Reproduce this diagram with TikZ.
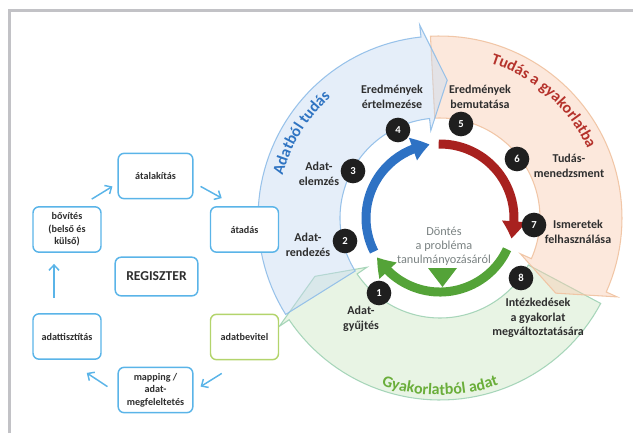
\documentclass[tikz,border=0pt]{standalone}
\usepackage{fontspec}
\setmainfont{Carlito}
\usetikzlibrary{arrows.meta,decorations.text,bending,calc}
\definecolor{framegray}{HTML}{C2C2C6}
\definecolor{bandblue}{HTML}{C6DAF2}
\definecolor{edgeblue}{HTML}{8FBDE8}
\definecolor{bandorange}{HTML}{F8CCB2}
\definecolor{edgeorange}{HTML}{F0C2A0}
\definecolor{bandgreen}{HTML}{CDE6C4}
\definecolor{edgegreen}{HTML}{9FD2B4}
\definecolor{titleblue}{HTML}{2F74C2}
\definecolor{titlered}{HTML}{B5322B}
\definecolor{titlegreen}{HTML}{6AAE3A}
\definecolor{arcblue}{HTML}{2E72C4}
\definecolor{arcred}{HTML}{A8211F}
\definecolor{arcgreen}{HTML}{54A338}
\definecolor{txt}{HTML}{2E2E2E}
\definecolor{dtxt}{HTML}{7A8282}
\definecolor{boxblue}{HTML}{5AB4E8}
\definecolor{boxgreen}{HTML}{B3D46C}
\newcommand\ringarrow[4]{%
 \filldraw[#4] plot[domain=#1:#2,samples=50] ({440+182*cos(\x)},{218+182*sin(\x)})
  -- ({440+194*cos(#2)},{218+194*sin(#2)})
  -- ({440+138*cos(#3)},{218+138*sin(#3)})
  -- ({440+88*cos(#2)},{218+88*sin(#2)})
  -- plot[domain=#2:#1,samples=50] ({440+100*cos(\x)},{218+100*sin(\x)}) -- cycle;}
\newcommand\ringtitle[5]{%
 \path[decorate,decoration={text along path,text align=center,text color=#4,
   text={|\bfseries\fontsize{12}{14}\selectfont|#5}}]
   plot[domain=#1:#2,samples=80] ({440+#3*cos(\x)},{218+#3*sin(\x)});}
\begin{document}
\begin{tikzpicture}[x=0.75pt,y=-0.75pt,
  band/.style={line width=0.8pt,fill opacity=0.45,draw opacity=0.9},
  numdot/.style={circle,fill=black!88,text=white,font=\bfseries\fontsize{8}{9}\selectfont,minimum size=18.5pt,inner sep=0pt},
  steplabel/.style={align=center,text=txt,font=\bfseries\fontsize{9}{11}\selectfont,inner sep=0pt},
  innerarc/.style={line width=6.75pt},
  regbox/.style={draw=boxblue,line width=1.1pt,rounded corners=4.5pt,fill=white,align=center,text=txt,
     font=\bfseries\fontsize{7.6}{9.4}\selectfont,minimum width=51pt,minimum height=34pt,inner sep=1pt},
  regarrow/.style={draw=boxblue,line width=1.1pt,-{Straight Barb[length=4pt,width=7.5pt]}}]
\useasboundingbox (0,0) rectangle (633,433);
% frame
\draw[framegray,line width=2.25pt] (9,433) -- (9,10) -- (633,10);
% ring arrows
\ringarrow{28}{146}{155}{band,fill=bandgreen,draw=edgegreen}
\ringarrow{267}{384}{393}{band,fill=bandorange,draw=edgeorange}
\ringarrow{148}{264}{273}{band,fill=bandblue,draw=edgeblue}
% ring titles
\ringtitle{178}{245}{163}{titleblue}{Adatból tudás}
\ringtitle{276}{347}{163}{titlered}{Tudás a gyakorlatba}
\ringtitle{132}{48}{177}{titlegreen}{Gyakorlatból adat}
% inner cycle arcs
\coordinate (C) at (440,218);
\draw[innerarc,arcblue,-{Triangle[length=13pt,width=17pt,bend]}] ($(C)+(153:74)$) arc[start angle=153,end angle=262,radius=74];
\draw[innerarc,arcred,-{Triangle[length=13pt,width=17pt,bend]}] ($(C)+(269:74)$) arc[start angle=269,end angle=376,radius=74];
\draw[innerarc,arcgreen,-{Triangle[length=13pt,width=17pt,bend]}] ($(C)+(25:74)$) arc[start angle=25,end angle=148,radius=74];
\fill[arcgreen] (428,268) -- (457,268) -- (442.5,287) -- cycle;
\node[align=center,text=dtxt,font=\fontsize{9.2}{10.4}\selectfont,inner sep=0pt] (dontes) at (444,246) {Döntés\\a probléma\\tanulmányozásáról};
% numbers
\node[numdot] (n1) at (379,293) {1};
\node[numdot] (n2) at (345,241) {2};
\node[numdot] (n3) at (353,171) {3};
\node[numdot] (n4) at (398,130) {4};
\node[numdot] (n5) at (461,124) {5};
\node[numdot] (n6) at (517,159) {6};
\node[numdot] (n7) at (534,225) {7};
\node[numdot] (n8) at (521,278) {8};
% step labels
\node[steplabel] (l1) at (361,319) {Adat-\\gyűjtés};
\node[steplabel] (l2) at (308,245) {Adat-\\rendezés};
\node[steplabel] (l3) at (319,174) {Adat-\\elemzés};
\node[steplabel] (l4) at (392,97) {Eredmények\\értelmezése};
\node[steplabel] (l5) at (480,97) {Eredmények\\bemutatása};
\node[steplabel] (l6) at (569,166) {Tudás-\\menedzsment};
\node[steplabel] (l7) at (578,232) {Ismeretek\\felhasználása};
\node[steplabel] (l8) at (538,318) {Intézkedések\\a gyakorlat\\megváltoztatására};
% register cycle
\node[regbox,minimum width=56pt] (atal) at (155.5,176) {átalakítás};
\node[regbox] (atad) at (244.5,229.5) {átadás};
\node[regbox] (bov) at (67,229.5) {bővítés\\(belső és\\külső)};
\node[regbox,font=\bfseries\fontsize{10.2}{12}\selectfont,minimum width=62pt,minimum height=29pt] (reg) at (156.5,276.5) {REGISZTER};
\node[regbox] (tiszt) at (67,336.5) {adattisztítás};
\node[regbox,draw=boxgreen] (bev) at (244.5,337) {adatbevitel};
\node[regbox,minimum width=56pt] (map) at (155.5,390) {mapping /\\adat-\\megfeleltetés};
\draw[regarrow] ([shift={(-10,-7)}]bov.north east) -- ([shift={(-5,-13)}]atal.south west);
\draw[regarrow] ([shift={(7,-13)}]atal.south east) -- ([shift={(12,-8)}]atad.north west);
\draw[regarrow] ([shift={(12,13)}]bev.south west) -- ([shift={(7,20)}]map.north east);
\draw[regarrow] ([shift={(-10,20)}]map.north west) -- ([shift={(-15,13)}]tiszt.south east);
\draw[regarrow] ([shift={(-13,-15)}]tiszt.north) -- ([shift={(-13,11)}]bov.south);
\end{tikzpicture}
\end{document}
